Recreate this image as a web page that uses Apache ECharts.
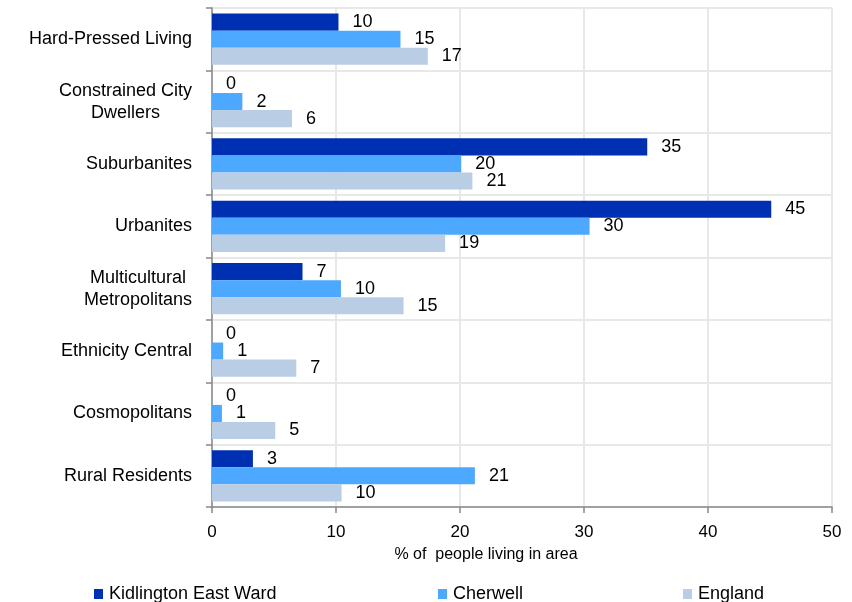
<!DOCTYPE html>
<html>
<head>
<meta charset="utf-8">
<script src="https://cdn.jsdelivr.net/npm/echarts@6/dist/echarts.min.js"></script>
<style>html,body{margin:0;padding:0;background:#fff}#c{width:852px;height:602px}</style>
</head>
<body>
<div id="c"></div>
<script>
const categories = ["Hard-Pressed Living", "Constrained City\nDwellers", "Suburbanites", "Urbanites", "Multicultural\nMetropolitans", "Ethnicity Central", "Cosmopolitans", "Rural Residents"];
const seriesNames = ["Kidlington East Ward", "Cherwell", "England"];
const kidlington = [10.2, 0, 35.1, 45.1, 7.3, 0, 0, 3.3];
const cherwell = [15.2, 2.45, 20.1, 30.45, 10.4, 0.9, 0.8, 21.2];
const england = [17.4, 6.45, 21.0, 18.8, 15.45, 6.8, 5.1, 10.45];
const xTicks = [0, 10, 20, 30, 40, 50];
const colors = ["#0030B2", "#4DA8FF", "#B9CDE5"];

const FONT = "'Liberation Sans', Arial, sans-serif";
const chart = echarts.init(document.getElementById('c'), null, {renderer: 'canvas'});

function mk(name, data, color) {
  return {
    name: name, type: 'bar', data: data,
    itemStyle: {color: color},
    barGap: '0%', barCategoryGap: '18%',
    label: {show: true, position: 'right', distance: 14, color: '#000',
      fontFamily: FONT, fontSize: 18, formatter: p => Math.round(p.value)}
  };
}

const legendLefts = [89, 433, 678];
const legends = seriesNames.map((n, i) => ({
  left: legendLefts[i], top: 580, itemWidth: 9, itemHeight: 10, icon: 'rect',
  textStyle: {fontFamily: FONT, fontSize: 18, color: '#000', padding: [0, 0, 0, 1]},
  data: [n]
}));

chart.setOption({
  animation: false,
  textStyle: {fontFamily: FONT},
  grid: {left: 212, right: 20, top: 8, bottom: 95, containLabel: false},
  legend: legends,
  xAxis: {
    type: 'value', min: xTicks[0], max: xTicks[xTicks.length - 1], interval: 10,
    name: '% of  people living in area', nameLocation: 'middle', nameGap: 40,
    nameTextStyle: {fontFamily: FONT, fontSize: 16, color: '#000', padding: [0, 72, 0, 0]},
    axisLine: {show: true, lineStyle: {color: '#888', width: 1.5}},
    axisTick: {show: true, length: 6, lineStyle: {color: '#888', width: 1.5}},
    axisLabel: {fontFamily: FONT, fontSize: 17, color: '#000', margin: 17},
    splitLine: {show: true, lineStyle: {color: '#E8E8E8', width: 2}}
  },
  yAxis: {
    type: 'category', data: categories, inverse: true,
    axisLine: {show: true, lineStyle: {color: '#888', width: 1.5}},
    axisTick: {show: true, length: 6, lineStyle: {color: '#888', width: 1.5}},
    axisLabel: {
      margin: 20, color: '#000', fontSize: 18, fontFamily: FONT, lineHeight: 22,
      formatter: v => v.split('\n').map(l => '{c|' + l + '}').join('\n'),
      rich: {c: {align: 'center', fontSize: 18, fontFamily: FONT, color: '#000', lineHeight: 22}}
    },
    splitLine: {show: true, lineStyle: {color: '#E8E8E8', width: 2}}
  },
  series: [mk(seriesNames[0], kidlington, colors[0]), mk(seriesNames[1], cherwell, colors[1]), mk(seriesNames[2], england, colors[2])]
});
</script>
</body>
</html>
